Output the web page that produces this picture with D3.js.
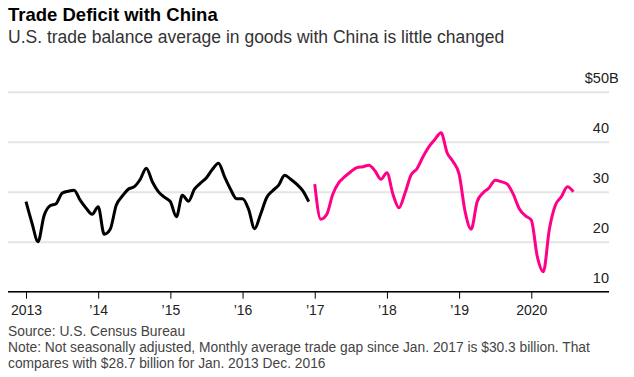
<!DOCTYPE html>
<html>
<head>
<meta charset="utf-8">
<script src="https://cdn.jsdelivr.net/npm/d3@7"></script>
<style>
  body { margin: 0; background: #fff; }
  svg { font-family: "Liberation Sans", Arial, sans-serif; display: block; }
</style>
</head>
<body>
<div id="chart"></div>
<script>
// monthly values, $ billions
const blackStart = 2013;   // Jan 2013 .. Dec 2016
const blackValues = [
  28, 23.7, 20, 25.2, 27.2, 27.6, 29.7, 30.1, 30.3, 28.3, 26.7, 25.5,
  27, 21.5, 22.5, 27.3, 29.1, 30.5, 31, 32.5, 34.7, 32, 30, 28.9,
  28, 25, 29.3, 28.1, 30.5, 31.7, 32.8, 34.5, 35.7, 33, 30.5, 28.6,
  28.6, 26.5, 22.6, 25.5, 28.8, 30.2, 31.3, 33.3, 32.5, 31.5, 30.2, 28
];
const pinkStart = 2017;    // Jan 2017 .. Aug 2020
const pinkValues = [
  31.5, 24.5, 25.5, 29.5, 31.8, 33, 34, 34.8, 35, 35.3, 34.2, 32.5,
  33.8, 29.5, 26.8, 29.7, 33.3, 34.6, 37, 39, 40.5, 41.8, 37.8, 36,
  33.5, 26, 22.5, 28, 29.8, 30.8, 32.3, 32, 31.5, 29.5, 26.6, 25.2,
  24.3, 17, 14, 22.5, 27.3, 29, 31, 30
];
const yearTicks = [2013, 2014, 2015, 2016, 2017, 2018, 2019, 2020];
const yTicks = [10, 20, 30, 40, 50];

const title = "Trade Deficit with China";
const subtitle = "U.S. trade balance average in goods with China is little changed";
const source = "Source: U.S. Census Bureau";
const noteLines = [
  "Note: Not seasonally adjusted, Monthly average trade gap since Jan. 2017 is $30.3 billion. That",
  "compares with $28.7 billion for Jan. 2013 Dec. 2016"
];

const width = 634, height = 377;
const left = 8, right = 609;

const svg = d3.select("#chart").append("svg")
  .attr("width", width).attr("height", height);

const x = d3.scaleLinear().domain([2013, 2020]).range([26, 531.3]);
const y = d3.scaleLinear().domain([10, 50]).range([291.7, 91.7]);

const toPoints = (start, vals) => vals.map((v, i) => ({ t: start + i / 12, v }));

// gridlines + y labels
const yAxis = svg.append("g")
  .attr("transform", `translate(${right},0)`)
  .call(d3.axisLeft(y).tickValues(yTicks).tickSize(right - left).tickFormat(d3.format("d")));
yAxis.select(".domain").remove();
yAxis.attr("font-family", null);
yAxis.selectAll(".tick line").attr("stroke", "#e5e5e5").attr("stroke-width", 2);
yAxis.selectAll(".tick text")
  .attr("x", 0).attr("dy", -9)
  .attr("text-anchor", "end")
  .attr("fill", "#222").style("font-size", "14.5px");

// "$50B" - keep the digits aligned with the other labels
yAxis.selectAll(".tick").filter(d => d === 50).each(function() {
  const g = d3.select(this);
  const w = g.select("text").node().getComputedTextLength();
  g.append("text").attr("x", -w).attr("dy", -9)
    .attr("text-anchor", "end").attr("fill", "#222").style("font-size", "14.5px").text("$");
  g.append("text").attr("x", 0).attr("dy", -9)
    .attr("text-anchor", "start").attr("fill", "#222").style("font-size", "14.5px").text("B");
});

// x axis
const xAxis = svg.append("g")
  .attr("transform", `translate(0,${y(10)})`)
  .call(d3.axisBottom(x).tickValues(yearTicks).tickSize(7).tickPadding(6)
    .tickFormat(d => (d === 2013 || d === 2020) ? String(d) : "\u2019" + String(d).slice(2)));
xAxis.select(".domain").remove();
xAxis.attr("font-family", null);
xAxis.selectAll(".tick line").attr("stroke", "#000");
xAxis.selectAll(".tick text").attr("fill", "#222").style("font-size", "14px");

svg.append("line")
  .attr("x1", left).attr("x2", right)
  .attr("y1", y(10)).attr("y2", y(10))
  .attr("stroke", "#000").attr("stroke-width", 1.5);

// lines
const line = d3.line().x(d => x(d.t)).y(d => y(d.v)).curve(d3.curveMonotoneX);

svg.append("path").datum(toPoints(blackStart, blackValues))
  .attr("fill", "none").attr("stroke", "#000").attr("stroke-width", 3)
  .attr("stroke-linejoin", "round").attr("d", line);

svg.append("path").datum(toPoints(pinkStart, pinkValues))
  .attr("fill", "none").attr("stroke", "#ff0088").attr("stroke-width", 3)
  .attr("stroke-linejoin", "round").attr("d", line);

// titles
svg.append("text").attr("x", left).attr("y", 21)
  .style("font-size", "18.5px").style("font-weight", "bold").attr("fill", "#000")
  .text(title);
svg.append("text").attr("x", left).attr("y", 43)
  .style("font-size", "17.5px").attr("fill", "#333")
  .text(subtitle);

// footer
svg.append("text").attr("x", left).attr("y", 336)
  .style("font-size", "13.8px").attr("fill", "#444").text(source);
svg.selectAll(".note").data(noteLines).join("text")
  .attr("class", "note")
  .attr("x", left).attr("y", (d, i) => 352 + i * 15.5)
  .style("font-size", "13.8px").attr("fill", "#444").text(d => d);
</script>
</body>
</html>
